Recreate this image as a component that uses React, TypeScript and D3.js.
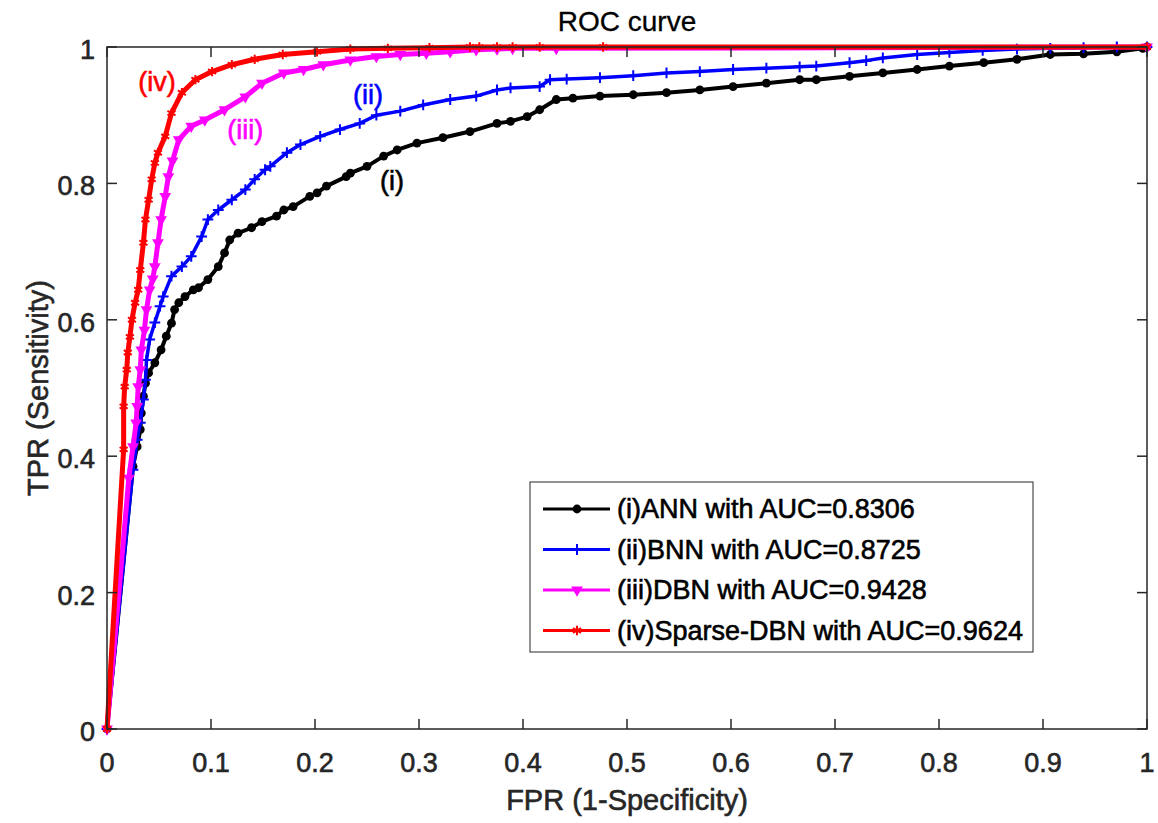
import React from "react";
import * as d3 from "d3";

// values
const annFpr = [0, 0.025, 0.029, 0.032, 0.033, 0.035, 0.037, 0.04, 0.046, 0.052, 0.057, 0.062, 0.065, 0.069, 0.075, 0.083, 0.088, 0.097, 0.107, 0.113, 0.118, 0.126, 0.139, 0.149, 0.163, 0.17, 0.179, 0.195, 0.202, 0.211, 0.23, 0.234, 0.25, 0.266, 0.279, 0.298, 0.323, 0.349, 0.375, 0.388, 0.404, 0.416, 0.432, 0.448, 0.474, 0.506, 0.538, 0.57, 0.602, 0.634, 0.666, 0.682, 0.714, 0.746, 0.779, 0.81, 0.843, 0.875, 0.907, 0.939, 0.971, 0.996, 1];
const annTpr = [0, 0.385, 0.414, 0.439, 0.463, 0.488, 0.507, 0.522, 0.537, 0.556, 0.576, 0.595, 0.615, 0.625, 0.634, 0.644, 0.647, 0.659, 0.678, 0.698, 0.717, 0.727, 0.735, 0.744, 0.752, 0.761, 0.766, 0.781, 0.786, 0.796, 0.81, 0.815, 0.825, 0.84, 0.849, 0.859, 0.867, 0.876, 0.888, 0.891, 0.898, 0.908, 0.923, 0.925, 0.928, 0.93, 0.933, 0.937, 0.942, 0.947, 0.952, 0.952, 0.957, 0.962, 0.967, 0.972, 0.977, 0.982, 0.989, 0.99, 0.993, 0.998, 1];

const bnnFpr = [0, 0.025, 0.029, 0.032, 0.035, 0.037, 0.038, 0.041, 0.046, 0.051, 0.054, 0.062, 0.072, 0.081, 0.091, 0.097, 0.107, 0.12, 0.133, 0.142, 0.152, 0.157, 0.173, 0.186, 0.205, 0.224, 0.243, 0.259, 0.282, 0.304, 0.33, 0.355, 0.375, 0.388, 0.416, 0.426, 0.442, 0.474, 0.506, 0.538, 0.57, 0.602, 0.634, 0.666, 0.682, 0.714, 0.73, 0.746, 0.779, 0.81, 0.842, 0.875, 0.907, 0.939, 0.971, 1];
const bnnTpr = [0, 0.38, 0.424, 0.449, 0.483, 0.512, 0.541, 0.571, 0.596, 0.62, 0.634, 0.664, 0.678, 0.693, 0.722, 0.747, 0.761, 0.776, 0.791, 0.806, 0.82, 0.825, 0.845, 0.857, 0.869, 0.879, 0.888, 0.9, 0.906, 0.915, 0.923, 0.928, 0.937, 0.94, 0.942, 0.952, 0.953, 0.955, 0.958, 0.962, 0.964, 0.967, 0.969, 0.971, 0.972, 0.977, 0.98, 0.984, 0.989, 0.992, 0.995, 0.997, 0.998, 0.999, 1, 1];

const dbnFpr = [0, 0.021, 0.025, 0.028, 0.029, 0.03, 0.032, 0.033, 0.036, 0.038, 0.041, 0.044, 0.046, 0.049, 0.052, 0.056, 0.059, 0.063, 0.069, 0.081, 0.094, 0.113, 0.133, 0.149, 0.17, 0.189, 0.208, 0.234, 0.259, 0.282, 0.307, 0.33, 0.355, 0.375, 0.39, 0.432, 1];
const dbnTpr = [0, 0.368, 0.414, 0.449, 0.473, 0.502, 0.527, 0.556, 0.585, 0.615, 0.644, 0.66, 0.678, 0.713, 0.747, 0.781, 0.81, 0.833, 0.864, 0.884, 0.893, 0.908, 0.927, 0.947, 0.962, 0.967, 0.974, 0.981, 0.986, 0.989, 0.991, 0.993, 0.996, 0.997, 0.998, 0.998, 1];

const sdbnFpr = [0, 0.016, 0.016, 0.017, 0.019, 0.02, 0.022, 0.024, 0.027, 0.03, 0.032, 0.035, 0.037, 0.04, 0.043, 0.046, 0.049, 0.056, 0.062, 0.072, 0.085, 0.101, 0.12, 0.142, 0.169, 0.202, 0.234, 0.27, 0.31, 0.349, 0.358, 0.375, 0.39, 0.416, 0.477, 1];
const sdbnTpr = [0, 0.41, 0.473, 0.502, 0.527, 0.552, 0.575, 0.6, 0.625, 0.644, 0.673, 0.713, 0.747, 0.776, 0.806, 0.83, 0.845, 0.869, 0.903, 0.933, 0.952, 0.964, 0.974, 0.982, 0.989, 0.993, 0.997, 0.998, 0.999, 1, 1, 1, 1, 1, 1, 1];

const legendLabels = [
  "(i)ANN with AUC=0.8306",
  "(ii)BNN with AUC=0.8725",
  "(iii)DBN with AUC=0.9428",
  "(iv)Sparse-DBN with AUC=0.9624",
];
const curveTags = ["(i)", "(ii)", "(iii)", "(iv)"];
const tagFpr = [0.274, 0.251, 0.133, 0.048];
const tagTpr = [0.804, 0.93, 0.879, 0.948];

const xTicks = [0, 0.1, 0.2, 0.3, 0.4, 0.5, 0.6, 0.7, 0.8, 0.9, 1];
const yTicks = [0, 0.2, 0.4, 0.6, 0.8, 1];

const W = 1158;
const H = 823;
const margin = { left: 107, right: 11, top: 47, bottom: 94 };
const axisColor = "#262626";
const font = "'Liberation Sans', Arial, Helvetica, sans-serif";

const series = [
  { fpr: annFpr, tpr: annTpr, color: "#000000", marker: "dot", width: 4 },
  { fpr: bnnFpr, tpr: bnnTpr, color: "#0000ff", marker: "plus", width: 3.5 },
  { fpr: dbnFpr, tpr: dbnTpr, color: "#ff00ff", marker: "tri", width: 5 },
  { fpr: sdbnFpr, tpr: sdbnTpr, color: "#ff0000", marker: "star", width: 5 },
];

const plusPath = d3.symbol(d3.symbolPlus, 40)() as string;
const triPath = d3.symbol(d3.symbolTriangle, 60)() as string;
const starPath = d3.symbol(d3.symbolAsterisk, 60)() as string;

function Marker({ kind, color, x, y }: { kind: string; color: string; x: number; y: number }) {
  if (kind === "dot") return <circle cx={x} cy={y} r={4.4} fill={color} />;
  if (kind === "plus")
    return <path d={plusPath} transform={`translate(${x},${y})`} fill="none" stroke={color} strokeWidth={2} />;
  if (kind === "tri")
    return <path d={triPath} transform={`translate(${x},${y}) rotate(180)`} fill={color} />;
  return <path d={starPath} transform={`translate(${x},${y})`} fill="none" stroke={color} strokeWidth={2} />;
}

const textWeight = { stroke: "currentColor", strokeWidth: 0.6 };

export default function App() {
  const x = d3.scaleLinear().domain([0, 1]).range([margin.left, W - margin.right]);
  const y = d3.scaleLinear().domain([0, 1]).range([H - margin.bottom, margin.top]);
  const x0 = x(0), x1 = x(1), y0 = y(0), y1 = y(1);
  const fmt = (t: number) => String(+t.toFixed(1));

  const legend = { x: 530, y: 482, w: 503, h: 170 };

  return (
    <svg
      width={W}
      height={H}
      style={{ position: "absolute", left: 0, top: 0, background: "#fff" }}
      fontFamily={font}
    >
      <rect x={0} y={0} width={W} height={H} fill="#fff" />

      {/* curves */}
      <g>
        {series.map((s, i) => {
          const pts = s.fpr.map((f, k) => [x(f), y(s.tpr[k])] as [number, number]);
          const path = d3.line()(pts) as string;
          return (
            <g key={i}>
              <path d={path} fill="none" stroke={s.color} strokeWidth={s.width} strokeLinejoin="round" />
              {pts.map((p, k) => (
                <Marker key={k} kind={s.marker} color={s.color} x={p[0]} y={p[1]} />
              ))}
            </g>
          );
        })}
      </g>

      {/* axes box */}
      <rect x={x0} y={y1} width={x1 - x0} height={y0 - y1} fill="none" stroke={axisColor} strokeWidth={1.5} />
      <g color={axisColor}>
        {xTicks.map((t) => (
          <g key={"x" + t}>
            <line x1={x(t)} x2={x(t)} y1={y0} y2={y0 - 10} stroke={axisColor} strokeWidth={1.5} />
            <line x1={x(t)} x2={x(t)} y1={y1} y2={y1 + 10} stroke={axisColor} strokeWidth={1.5} />
            <text x={x(t)} y={y0 + 43} textAnchor="middle" fontSize={27} fill={axisColor} {...textWeight}>
              {fmt(t)}
            </text>
          </g>
        ))}
        {yTicks.map((t) => (
          <g key={"y" + t}>
            <line x1={x0} x2={x0 + 10} y1={y(t)} y2={y(t)} stroke={axisColor} strokeWidth={1.5} />
            <line x1={x1} x2={x1 - 10} y1={y(t)} y2={y(t)} stroke={axisColor} strokeWidth={1.5} />
            <text x={x0 - 12} y={y(t) + 12} textAnchor="end" fontSize={27} fill={axisColor} {...textWeight}>
              {fmt(t)}
            </text>
          </g>
        ))}
      </g>

      {/* curve tags */}
      {curveTags.map((t, i) => (
        <text
          key={t}
          x={x(tagFpr[i])}
          y={y(tagTpr[i])}
          textAnchor="middle"
          dominantBaseline="central"
          fontSize={27}
          fill={series[i].color}
          color={series[i].color}
          {...textWeight}
        >
          {t}
        </text>
      ))}

      {/* titles */}
      <g color={axisColor}>
        <text x={(x0 + x1) / 2} y={31} textAnchor="middle" fontSize={28} fill="#000" color="#000" strokeWidth={0.3} stroke="#000">
          ROC curve
        </text>
        <text x={(x0 + x1) / 2} y={810} textAnchor="middle" fontSize={29} fill={axisColor} {...textWeight}>
          FPR (1-Specificity)
        </text>
        <text
          transform={`translate(48,${(y0 + y1) / 2}) rotate(-90)`}
          textAnchor="middle"
          fontSize={29}
          fill={axisColor}
          {...textWeight}
        >
          TPR (Sensitivity)
        </text>
      </g>

      {/* legend */}
      <rect x={legend.x} y={legend.y} width={legend.w} height={legend.h} fill="#fff" stroke={axisColor} strokeWidth={1} />
      {legendLabels.map((lab, i) => {
        const ly = legend.y + 27 + i * 40.5;
        const s = series[i];
        return (
          <g key={lab} color="#000">
            <line x1={543} x2={610} y1={ly} y2={ly} stroke={s.color} strokeWidth={3} />
            <Marker kind={s.marker} color={s.color} x={577} y={ly} />
            <text x={617} y={ly} dominantBaseline="central" fontSize={27} fill="#000" {...textWeight}>
              {lab}
            </text>
          </g>
        );
      })}
    </svg>
  );
}
